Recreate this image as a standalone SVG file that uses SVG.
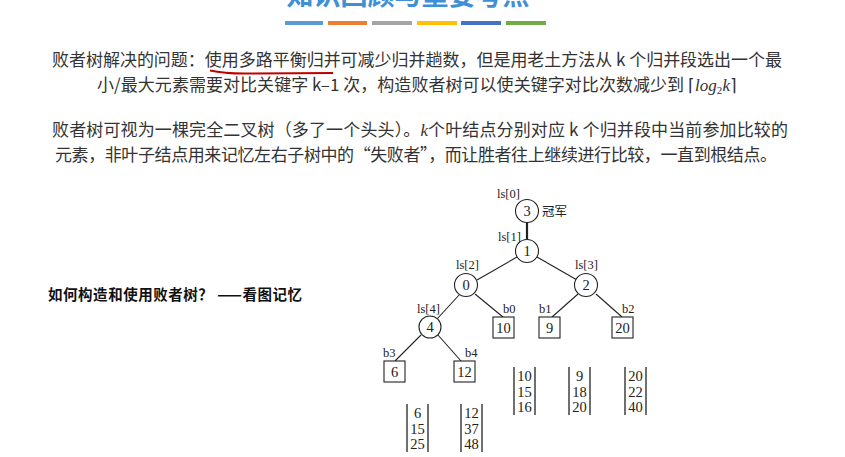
<svg xmlns="http://www.w3.org/2000/svg" width="845" height="457" viewBox="0 0 845 457">
<style>
.cn{font-family:"Noto Sans CJK SC","Noto Sans",sans-serif;fill:#333;font-size:17px}
.tr{font-family:"Liberation Serif","Noto Sans CJK SC",serif;fill:#222}
.lbl{font-size:12.5px}
.num{font-size:14.5px;text-anchor:middle;dominant-baseline:central}
.nd{fill:#fff;stroke:#222;stroke-width:1.1}
.ln{stroke:#222;stroke-width:1.1;fill:none}
.col{stroke:#222;stroke-width:1.3}
</style>
<rect width="845" height="457" fill="#fff"/>
<text x="408" y="5" text-anchor="middle" style="font-family:'Noto Sans CJK SC',sans-serif;font-weight:bold;font-size:27px;fill:#3f8fd6">知识回顾与重要考点</text>
<g id="bars">
<rect x="285" y="21" width="38" height="4" fill="#5B9BD5"/>
<rect x="328" y="21" width="39" height="4" fill="#ED7D31"/>
<rect x="372" y="21" width="40" height="4" fill="#A5A5A5"/>
<rect x="417" y="21" width="40" height="4" fill="#FFC000"/>
<rect x="461" y="21" width="40" height="4" fill="#4472C4"/>
<rect x="506" y="21" width="40" height="4" fill="#70AD47"/>
</g>
<text class="cn" x="52" y="66" textLength="730">败者树解决的问题：使用多路平衡归并可减少归并趟数，但是用老土方法从 k 个归并段选出一个最</text>
<text class="cn" x="97" y="91" textLength="640">小/最大元素需要对比关键字 k–1 次，构造败者树可以使关键字对比次数减少到 <tspan style="font-family:'Liberation Serif',serif">⌈<tspan font-style="italic">log</tspan><tspan font-size="11" dy="3">2</tspan><tspan font-style="italic" dy="-3">k</tspan>⌉</tspan></text>
<path d="M210,70.5 Q226,74 250,73.5 L333,73" stroke="#C00000" stroke-width="2" fill="none"/>
<text class="cn" x="52" y="136" textLength="736">败者树可视为一棵完全二叉树（多了一个头头）。<tspan font-style="italic" style="font-family:'Liberation Serif',serif">k</tspan>个叶结点分别对应 k 个归并段中当前参加比较的</text>
<text class="cn" x="55" y="161" textLength="722">元素，非叶子结点用来记忆左右子树中的“失败者”，而让胜者往上继续进行比较，一直到根结点。</text>
<text x="48" y="300" textLength="254" style="font-family:'Noto Sans CJK SC',sans-serif;font-weight:bold;font-size:14.5px;fill:#111">如何构造和使用败者树？ ——看图记忆</text>
<g id="connectors">
<line class="ln" x1="527" y1="222" x2="527" y2="240" style="stroke-width:2.2"/>
<line class="ln" x1="517" y1="257" x2="477" y2="280"/>
<line class="ln" x1="537" y1="257" x2="577" y2="280"/>
<line class="ln" x1="460" y1="294" x2="437" y2="319"/>
<line class="ln" x1="475" y1="294" x2="503" y2="317"/>
<line class="ln" x1="578" y1="294" x2="552" y2="317"/>
<line class="ln" x1="596" y1="294" x2="622" y2="317"/>
<line class="ln" x1="421" y1="335" x2="395" y2="361"/>
<line class="ln" x1="438" y1="335" x2="461" y2="361"/>
</g>
<g id="ls0" class="tr"><text class="lbl" x="497" y="198">ls[0]</text><circle class="nd" cx="527" cy="211" r="11.5"/><text class="num" x="527" y="211">3</text><text x="542" y="216" style="font-size:12.5px">冠军</text></g>
<g id="ls1" class="tr"><text class="lbl" x="498" y="241">ls[1]</text><circle class="nd" cx="527" cy="251" r="11.5"/><text class="num" x="527" y="251">1</text></g>
<g id="ls2" class="tr"><text class="lbl" x="456" y="269">ls[2]</text><circle class="nd" cx="466" cy="285" r="11.5"/><text class="num" x="466" y="285">0</text></g>
<g id="ls3" class="tr"><text class="lbl" x="575" y="269">ls[3]</text><circle class="nd" cx="586" cy="285" r="11.5"/><text class="num" x="586" y="285">2</text></g>
<g id="ls4" class="tr"><text class="lbl" x="417" y="313">ls[4]</text><circle class="nd" cx="430" cy="327" r="11"/><text class="num" x="430" y="327">4</text></g>
<g id="b0" class="tr"><text class="lbl" x="503" y="313">b0</text><rect class="nd" x="493" y="317" width="21" height="21"/><text class="num" x="503.5" y="327.5">10</text></g>
<g id="b1" class="tr"><text class="lbl" x="539" y="313">b1</text><rect class="nd" x="539" y="317" width="21" height="21"/><text class="num" x="549.5" y="327.5">9</text></g>
<g id="b2" class="tr"><text class="lbl" x="622" y="313">b2</text><rect class="nd" x="612" y="317" width="21" height="21"/><text class="num" x="622.5" y="327.5">20</text></g>
<g id="b3" class="tr"><text class="lbl" x="383" y="357">b3</text><rect class="nd" x="384" y="361" width="21" height="21"/><text class="num" x="394.5" y="371.5">6</text></g>
<g id="b4" class="tr"><text class="lbl" x="465" y="357">b4</text><rect class="nd" x="454" y="361" width="21" height="21"/><text class="num" x="464.5" y="371.5">12</text></g>
<g id="seq0" class="tr"><line class="col" x1="514" y1="367" x2="514" y2="415"/><line class="col" x1="535" y1="367" x2="535" y2="415"/><text class="num" x="524.5" y="376">10</text><text class="num" x="524.5" y="391.5">15</text><text class="num" x="524.5" y="407">16</text></g>
<g id="seq1" class="tr"><line class="col" x1="569" y1="367" x2="569" y2="415"/><line class="col" x1="590" y1="367" x2="590" y2="415"/><text class="num" x="579.5" y="376">9</text><text class="num" x="579.5" y="391.5">18</text><text class="num" x="579.5" y="407">20</text></g>
<g id="seq2" class="tr"><line class="col" x1="625" y1="367" x2="625" y2="415"/><line class="col" x1="646" y1="367" x2="646" y2="415"/><text class="num" x="635.5" y="376">20</text><text class="num" x="635.5" y="391.5">22</text><text class="num" x="635.5" y="407">40</text></g>
<g id="seq3" class="tr"><line class="col" x1="407" y1="404" x2="407" y2="452"/><line class="col" x1="428" y1="404" x2="428" y2="452"/><text class="num" x="417.5" y="413">6</text><text class="num" x="417.5" y="428.5">15</text><text class="num" x="417.5" y="444">25</text></g>
<g id="seq4" class="tr"><line class="col" x1="461" y1="404" x2="461" y2="452"/><line class="col" x1="482" y1="404" x2="482" y2="452"/><text class="num" x="471.5" y="413">12</text><text class="num" x="471.5" y="428.5">37</text><text class="num" x="471.5" y="444">48</text></g>
</svg>
